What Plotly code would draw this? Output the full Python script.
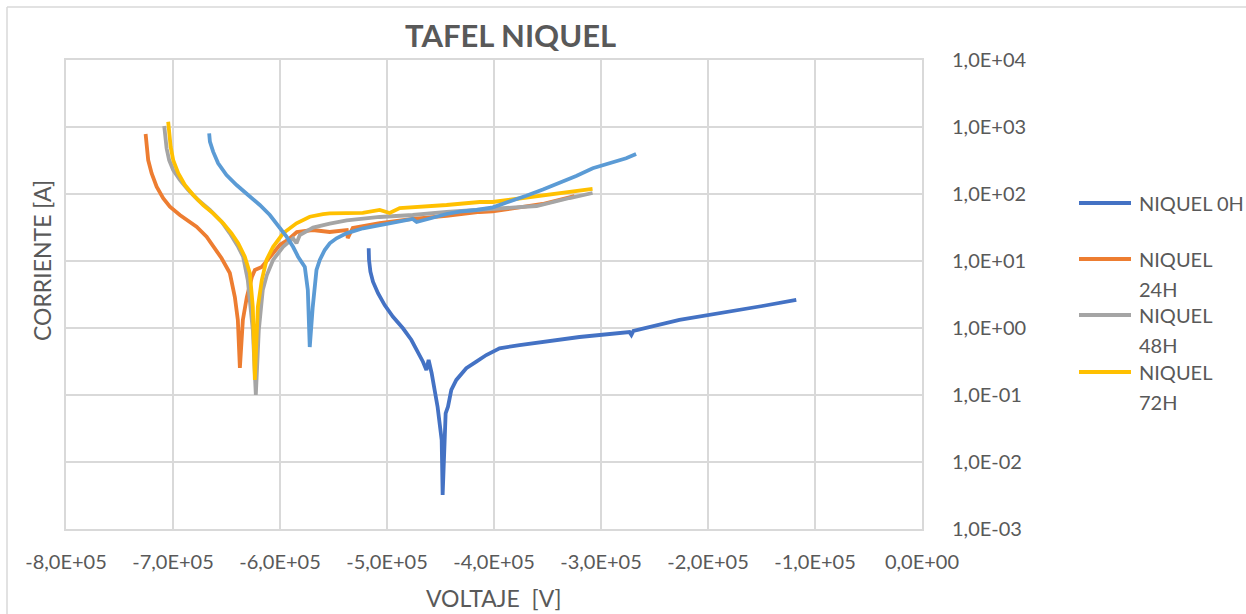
import plotly.graph_objects as go

# Potentiodynamic (Tafel) sweeps of nickel samples: potential vs. current (log)
x_0h = [-517100, -516800, -515500, -513100, -508400, -502200, -494400, -485100, -477200,
        -471100, -466400, -463200, -461100, -458300, -452700, -448900, -448000, -446100,
        -445200, -443000, -439900, -435200, -430500, -425900, -416500, -407200, -394800,
        -376100, -320100, -273400, -271600, -269700, -226700, -180000, -149200, -117500]
y_0h = [15.5, 10.4, 6.92, 4.91, 3.30, 2.20, 1.47, 0.99, 0.662,
        0.443, 0.314, 0.236, 0.333, 0.213, 0.0662, 0.0213, 0.00322, 0.0213,
        0.0533, 0.0669, 0.119, 0.168, 0.211, 0.251, 0.314, 0.395, 0.498,
        0.557, 0.734, 0.871, 0.787, 0.902, 1.32, 1.73, 2.13, 2.62]

x_24h = [-725600, -724700, -723200, -720000, -715300, -709200, -702900, -693600, -684200,
         -678000, -668600, -659300, -654600, -646900, -642200, -639400, -637500, -634700,
         -631000, -626300, -623500, -617000, -611400, -600200, -592700, -584300, -569400,
         -553500, -537600, -536700, -532000, -506800, -476000, -444300, -413400, -401300,
         -354600, -324800]
y_24h = [787, 508, 321, 204, 129, 86.3, 64.6, 48.6, 38.6,
         32.5, 23.1, 14.6, 11.0, 6.62, 2.90, 1.32, 0.253, 1.32,
         2.90, 5.77, 7.34, 8.13, 10.4, 17.3, 20.6, 27.1, 29.0,
         27.1, 29.0, 22.0, 31.1, 36.9, 42.4, 47.0, 53.9, 55.0,
         71.0, 93.3]

x_48h = [-708200, -707300, -706000, -703600, -699800, -693600, -685800, -676500, -665500,
         -654600, -646900, -639100, -634500, -630100, -625400, -622600, -619800, -616100,
         -612300, -606400, -597100, -587800, -584600, -581500, -569100, -553500, -537600,
         -506800, -476000, -444300, -413400, -394800, -360200, -329400, -307900]
y_48h = [1035, 716, 481, 321, 228, 162, 115, 81.3, 57.7,
         38.6, 25.9, 16.3, 11.6, 5.20, 0.933, 0.100, 0.933, 3.69,
         6.18, 10.4, 16.3, 21.8, 18.4, 24.4, 31.5, 36.0, 40.5,
         45.4, 48.6, 53.9, 57.7, 59.7, 66.2, 87.1, 103.5]

x_72h = [-704500, -703800, -702200, -699800, -695100, -688900, -681100, -671800, -662500,
         -653100, -645300, -639100, -632900, -628200, -625400, -623500, -620700, -617000,
         -612600, -606400, -597100, -584600, -572200, -559800, -553500, -522700, -506800,
         -497500, -488100, -444300, -413400, -401300, -354600, -307900]
y_72h = [1200, 805, 508, 321, 204, 136, 96.6, 68.5, 51.5,
         36.5, 25.9, 18.4, 11.6, 6.62, 2.06, 0.168, 2.06, 5.20,
         10.4, 16.3, 25.9, 36.5, 45.8, 50.0, 51.5, 52.1, 57.7,
         52.1, 61.8, 68.5, 76.0, 76.0, 96.6, 119]

x_ref = [-666200, -665500, -662500, -657800, -650000, -640600, -629800, -618900, -609500,
         -601800, -593900, -587800, -583100, -576800, -574000, -572200, -569400, -565900,
         -562800, -558200, -553500, -547200, -537900, -522400, -506800, -476000, -472300,
         -444300, -432100, -416500, -401000, -385400, -369800, -354300, -338800, -323200,
         -307700, -292100, -276500, -267200]
y_ref = [805, 604, 428, 287, 192, 136, 96.6, 68.5, 48.6,
         34.4, 23.1, 16.3, 11.6, 8.13, 3.69, 0.520, 2.06, 7.34,
         10.4, 14.6, 18.4, 21.8, 25.9, 30.8, 34.4, 42.4, 38.2,
         50.3, 54.5, 57.7, 63.3, 76.7, 94.4, 117, 147, 186,
         242, 287, 341, 395]

series = [
    ("NIQUEL 0H", x_0h, y_0h, "#4472C4"),
    ("NIQUEL 24H", x_24h, y_24h, "#ED7D31"),
    ("NIQUEL 48H", x_48h, y_48h, "#A5A5A5"),
    ("NIQUEL 72H", x_72h, y_72h, "#FFC000"),
    ("NIQUEL", x_ref, y_ref, "#5B9BD5"),
]

x_ticks = [-800000, -700000, -600000, -500000, -400000, -300000, -200000, -100000, 0]
x_tick_text = ["-8,0E+05", "-7,0E+05", "-6,0E+05", "-5,0E+05", "-4,0E+05",
               "-3,0E+05", "-2,0E+05", "-1,0E+05", "0,0E+00"]
y_ticks = [1e-3, 1e-2, 1e-1, 1e0, 1e1, 1e2, 1e3, 1e4]
y_tick_text = ["1,0E-03", "1,0E-02", "1,0E-01", "1,0E+00",
               "1,0E+01", "1,0E+02", "1,0E+03", "1,0E+04"]

legend_names = [["NIQUEL 0H"], ["NIQUEL", "24H"], ["NIQUEL", "48H"], ["NIQUEL", "72H"]]

W, H = 1246, 614
L, R, T, B = 66, 922, 60, 529
FONT = "Lato"
GREY_TEXT = "#595959"
GRID = "#d9d9d9"


def px(xp):
    return (xp - L) / (R - L)


def py(yp):
    return (B - yp) / (B - T)


fig = go.Figure()
for name, xs, ys, color in series:
    fig.add_trace(go.Scatter(x=xs, y=ys, mode="lines", name=name,
                             line=dict(color=color, width=3.8), showlegend=False))

shapes = [
    # outer chart frame
    dict(type="line", xref="paper", yref="paper", x0=px(7), x1=px(1260), y0=py(7), y1=py(7),
         line=dict(color=GRID, width=1.5)),
    dict(type="line", xref="paper", yref="paper", x0=px(7), x1=px(7), y0=py(7), y1=py(630),
         line=dict(color=GRID, width=1.5)),
]
annotations = [
    dict(text="<b>TAFEL NIQUEL</b>", x=px(510), y=py(35), xref="paper", yref="paper",
         showarrow=False, font=dict(family=FONT, size=31, color=GREY_TEXT),
         xanchor="center", yanchor="middle"),
    dict(text="VOLTAJE  [V]", x=px(494), y=py(598), xref="paper", yref="paper",
         showarrow=False, font=dict(family=FONT, size=23, color=GREY_TEXT),
         xanchor="center", yanchor="middle"),
    dict(text="CORRIENTE [A]", x=px(42), y=py(261), xref="paper", yref="paper",
         showarrow=False, textangle=-90, font=dict(family=FONT, size=23, color=GREY_TEXT),
         xanchor="center", yanchor="middle"),
]

# legend drawn as line swatches with wrapped labels
legend_rows = [203, 259, 315, 372]
for (name, _, _, color), lines, yrow in zip(series[:4], legend_names, legend_rows):
    shapes.append(dict(type="line", xref="paper", yref="paper", x0=px(1079), x1=px(1131),
                       y0=py(yrow), y1=py(yrow), line=dict(color=color, width=4)))
    for k, line_text in enumerate(lines):
        annotations.append(dict(text=line_text, x=px(1137), y=py(yrow + 30 * k),
                                xref="paper", yref="paper", showarrow=False,
                                font=dict(family=FONT, size=20, color=GREY_TEXT),
                                xanchor="left", yanchor="middle"))

fig.update_layout(
    width=W, height=H,
    margin=dict(l=L, r=W - R, t=T, b=H - B),
    paper_bgcolor="white", plot_bgcolor="white",
    font=dict(family=FONT, color=GREY_TEXT),
    shapes=shapes, annotations=annotations,
    xaxis=dict(range=[-800000, 0], tickvals=x_ticks, ticktext=x_tick_text,
               showgrid=True, gridcolor=GRID, gridwidth=2,
               showline=True, linecolor=GRID, linewidth=2, mirror=True,
               zeroline=False, ticks="", ticklabelstandoff=14,
               tickfont=dict(family=FONT, size=20, color=GREY_TEXT)),
    yaxis=dict(type="log", range=[-3, 4], tickvals=y_ticks, ticktext=y_tick_text,
               side="right", showgrid=True, gridcolor=GRID, gridwidth=2,
               showline=True, linecolor=GRID, linewidth=2, mirror=True,
               zeroline=False, ticks="", ticklabelstandoff=24,
               tickfont=dict(family=FONT, size=20, color=GREY_TEXT)),
)

fig.write_html("out.html")
